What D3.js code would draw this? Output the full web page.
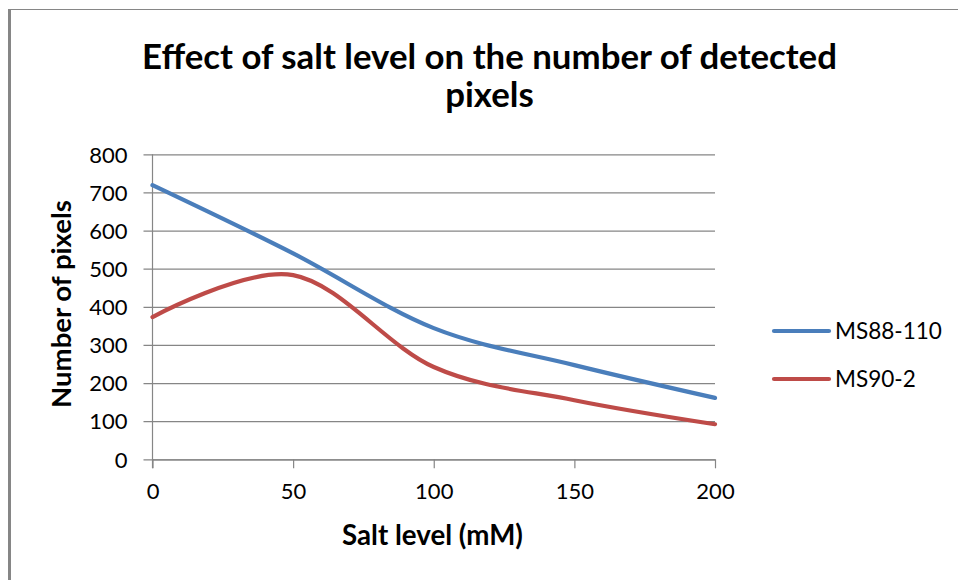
<!DOCTYPE html>
<html>
<head>
<meta charset="utf-8">
<script src="https://cdn.jsdelivr.net/npm/d3@7"></script>
<style>
  html, body { margin: 0; padding: 0; background: #ffffff; }
  svg { display: block; font-family: Lato, "Open Sans", "DejaVu Sans", sans-serif; }
</style>
</head>
<body>
<svg id="chart" width="958" height="580"></svg>
<script>
// Salt levels (mM) on the x axis
const saltLevels = [0, 50, 100, 150, 200];
// Detected pixel counts per line
const ms88_110 = [719, 540, 344, 247, 161];
const ms90_2   = [373, 483, 242, 155, 92];
const seriesNames = ["MS88-110", "MS90-2"];
const xTicks = [0, 50, 100, 150, 200];
const yTicks = [0, 100, 200, 300, 400, 500, 600, 700, 800];
const titleLines = ["Effect of salt level on the number of detected", "pixels"];
const xTitle = "Salt level (mM)";
const yTitle = "Number of pixels";

const colors = ["#4a7ebb", "#be4b48"];
const gridColor = "#868686";

const svg = d3.select("#chart");
const W = 958, H = 580;

svg.append("rect").attr("width", W).attr("height", H).attr("fill", "#ffffff");

// Chart frame (only the top and left edges are visible)
svg.append("line").attr("x1", 8).attr("x2", W).attr("y1", 9.5).attr("y2", 9.5)
  .attr("stroke", gridColor).attr("stroke-width", 1);
svg.append("rect").attr("x", 8).attr("y", 9).attr("width", 3).attr("height", H - 9)
  .attr("fill", gridColor);

const plot = { left: 152.5, right: 715, top: 154.3, bottom: 459.3 };

const x = d3.scaleLinear().domain([0, 200]).range([plot.left, plot.right]);
const y = d3.scaleLinear().domain([0, 800]).range([plot.bottom, plot.top]);

// Horizontal gridlines with left tick stubs
const yAxis = d3.axisLeft(y).tickValues(yTicks).tickSize(-(plot.right - plot.left)).tickSizeOuter(0).tickPadding(25);
const gy = svg.append("g").attr("transform", `translate(${plot.left},0)`).call(yAxis);
gy.select(".domain").remove();
gy.selectAll(".tick line").attr("stroke", gridColor).attr("stroke-width", 1.2)
  .attr("x1", -9);
gy.selectAll(".tick text").attr("font-size", 22).attr("fill", "#000")
  .attr("font-family", "Lato, sans-serif").attr("dy", "0.35em");

// X axis with downward ticks
const xAxis = d3.axisBottom(x).tickValues(xTicks).tickSize(9).tickSizeOuter(0).tickPadding(15);
const gx = svg.append("g").attr("transform", `translate(0,${plot.bottom})`).call(xAxis);
gx.select(".domain").attr("stroke", gridColor).attr("stroke-width", 1.2);
gx.selectAll(".tick line").attr("stroke", gridColor).attr("stroke-width", 1.2);
gx.selectAll(".tick text").attr("font-size", 22).attr("fill", "#000")
  .attr("font-family", "Lato, sans-serif").attr("dy", "0.71em");

// Vertical axis line
svg.append("line").attr("x1", plot.left).attr("x2", plot.left)
  .attr("y1", plot.top).attr("y2", plot.bottom + 9)
  .attr("stroke", gridColor).attr("stroke-width", 1.2);

// Smoothed series lines
const line = d3.line()
  .x((d, i) => x(saltLevels[i]))
  .y(d => y(d))
  .curve(d3.curveCardinal.tension(0));

[ms88_110, ms90_2].forEach((vals, i) => {
  svg.append("path").datum(vals)
    .attr("d", line)
    .attr("fill", "none")
    .attr("stroke", colors[i])
    .attr("stroke-width", 4.2)
    .attr("stroke-linecap", "round")
    .attr("stroke-linejoin", "round");
});

// Scale a text element so it spans the given width
function fitWidth(sel, width) {
  const base = +sel.attr("font-size");
  const w = sel.node().getComputedTextLength();
  const size = base * width / w;
  sel.attr("font-size", size);
  return size;
}

// Title
const t1 = svg.append("text").attr("x", 489.5).attr("y", 69)
  .attr("text-anchor", "middle").attr("font-weight", "bold").attr("font-size", 30)
  .attr("fill", "#000").text(titleLines[0]);
const titleSize = fitWidth(t1, 695);
svg.append("text").attr("x", 489.5).attr("y", 107)
  .attr("text-anchor", "middle").attr("font-weight", "bold").attr("font-size", titleSize)
  .attr("fill", "#000").text(titleLines[1]);

// Axis titles
const xt = svg.append("text").attr("x", 432.5).attr("y", 545)
  .attr("text-anchor", "middle").attr("font-weight", "bold").attr("font-size", 24)
  .attr("fill", "#000").text(xTitle);
fitWidth(xt, 181);

const yt = svg.append("text")
  .attr("transform", "translate(71,304) rotate(-90)")
  .attr("text-anchor", "middle").attr("font-weight", "bold").attr("font-size", 24)
  .attr("fill", "#000").text(yTitle);
fitWidth(yt, 208);

// Legend
const legendY = [331, 379];
let legendSize = 20;
seriesNames.forEach((name, i) => {
  const g = svg.append("g").attr("transform", `translate(0,${legendY[i]})`);
  g.append("line").attr("x1", 774).attr("x2", 829).attr("y1", 0).attr("y2", 0)
    .attr("stroke", colors[i]).attr("stroke-width", 4.2).attr("stroke-linecap", "round");
  const lt = g.append("text").attr("x", 835).attr("y", 0).attr("dy", "0.35em")
    .attr("font-size", legendSize).attr("fill", "#000").text(name);
  if (i === 0) legendSize = fitWidth(lt, 107);
});
</script>
</body>
</html>
